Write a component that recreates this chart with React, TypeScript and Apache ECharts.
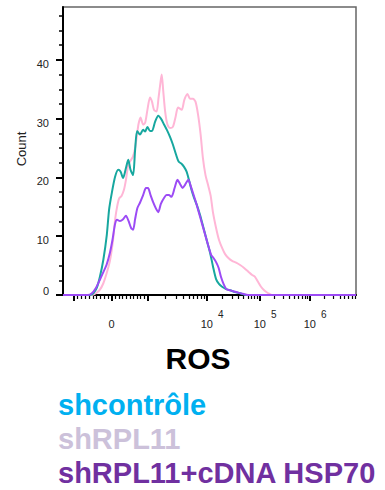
import React, { useEffect, useRef } from "react";
import * as echarts from "echarts";

// ROS axis is a biexponential display scale, expressed here in display channels (0–1024)
const X_MIN = 0;
const X_MAX = 1024;
// major ticks: -10^3, 0, 10^3, 10^4, 10^5, 10^6
const X_MAJOR_TICKS = [38, 170, 297, 502, 687, 862];
const X_LABEL_TICKS = [170, 502, 687, 862];
const X_LABEL_EXPONENTS = ["", "4", "5", "6"]; // "" means the "0" label

const Y_MAX = 49;
const Y_LABEL_TICKS = [0, 10, 20, 30, 40];
const Y_MINOR_STEP = 2.5;

const SERIES_NAMES = ["shcontrôle", "shRPL11", "shRPL11+cDNA HSP70"];
const LEGEND_COLORS = ["#00B0F0", "#CCC1DA", "#7030A0"];
const LINE_COLORS = ["#17A79F", "#FFB6D6", "#9C4BF5"];

// shcontrôle
const CTRL_X = [0, 94, 106, 118, 129, 141, 153, 161, 170, 182, 193, 201, 210, 220, 228, 236, 245, 252, 259, 269, 280, 287, 295, 304, 311, 322, 333, 345, 353, 363, 374, 384, 395, 404, 415, 423, 432, 440, 449, 458, 468, 479, 490, 502, 514, 524, 535, 545, 556, 570, 584, 601, 619, 640, 1024];
const CTRL_Y = [0, 0, 0.3, 1.2, 3.1, 6.0, 10.2, 14.5, 17.2, 20.1, 21.3, 21.0, 19.9, 21.6, 23.0, 21.3, 20.4, 24.7, 27.9, 27.3, 28.1, 27.8, 28.6, 27.9, 27.9, 29.5, 30.5, 29.8, 29.0, 28.1, 26.9, 25.6, 23.9, 22.7, 22.3, 21.8, 21.0, 19.6, 17.9, 16.5, 15.3, 13.6, 11.6, 9.4, 7.2, 4.9, 2.7, 1.9, 1.4, 1.0, 0.8, 0.5, 0.3, 0, 0];

// shRPL11
const RPL_X = [0, 101, 115, 129, 141, 152, 164, 175, 182, 189, 196, 205, 213, 220, 228, 234, 244, 252, 259, 264, 271, 280, 287, 295, 304, 311, 318, 327, 334, 341, 345, 350, 357, 365, 374, 384, 393, 402, 415, 424, 435, 444, 454, 463, 472, 481, 489, 498, 507, 516, 524, 535, 545, 556, 566, 578, 591, 605, 619, 633, 647, 661, 671, 682, 692, 703, 717, 730, 1024];
const RPL_Y = [0, 0, 0.3, 0.9, 2.0, 3.6, 5.8, 9.4, 12.8, 15.0, 16.4, 16.9, 17.9, 19.6, 22.1, 22.7, 23.5, 25.0, 27.4, 29.1, 30.2, 29.0, 29.3, 31.5, 33.6, 32.9, 31.5, 31.2, 33.6, 36.3, 37.5, 34.9, 31.2, 29.0, 28.4, 28.6, 30.2, 31.9, 31.5, 33.2, 34.2, 33.4, 33.4, 32.9, 30.7, 27.3, 23.3, 20.4, 18.7, 16.9, 14.1, 11.4, 9.4, 8.0, 7.0, 6.3, 5.8, 5.5, 5.1, 4.6, 4.0, 3.4, 3.1, 2.2, 1.4, 0.8, 0.3, 0, 0];

// shRPL11+cDNA HSP70
const HSP_X = [0, 87, 101, 115, 129, 141, 152, 164, 173, 182, 189, 199, 210, 220, 229, 238, 245, 252, 260, 269, 280, 290, 297, 306, 315, 325, 333, 342, 353, 362, 370, 379, 390, 400, 409, 418, 426, 438, 446, 454, 465, 475, 486, 496, 507, 518, 526, 535, 544, 552, 561, 571, 584, 598, 612, 629, 647, 1024];
const HSP_Y = [0, 0, 0.3, 1.2, 2.6, 3.9, 5.1, 7.2, 9.4, 12.1, 12.8, 12.6, 12.9, 13.5, 12.6, 11.4, 11.1, 12.9, 14.8, 15.7, 17.0, 18.2, 18.2, 17.0, 15.8, 14.7, 14.1, 15.5, 16.5, 17.0, 17.0, 16.7, 18.2, 19.6, 18.9, 18.2, 18.7, 19.6, 18.6, 17.4, 15.7, 14.0, 12.1, 10.4, 8.5, 6.8, 6.3, 5.6, 4.6, 3.1, 1.9, 1.0, 0.8, 0.6, 0.4, 0.2, 0, 0];

const FONT = "Liberation Sans, Arial, Helvetica, sans-serif";
const TEXT = "#222";

function zip(xs: number[], ys: number[]) {
  return xs.map((x, i) => [x, ys[i]]);
}

function minorXTicks(): number[] {
  const out: number[] = [];
  const neg = X_MAJOR_TICKS[0];
  const zero = X_MAJOR_TICKS[1];
  const pos = X_MAJOR_TICKS[2];
  for (let m = 1; m <= 9; m++) {
    out.push(zero - ((zero - neg) * m) / 10);
    out.push(zero + ((pos - zero) * m) / 10);
  }
  const dec = X_MAJOR_TICKS.slice(2);
  for (let i = 0; i < dec.length; i++) {
    const a = dec[i];
    const w = i < dec.length - 1 ? dec[i + 1] - a : a - dec[i - 1];
    for (let m = 2; m <= 9; m++) {
      const v = a + w * Math.log10(m);
      if (v < X_MAX) out.push(v);
    }
  }
  return out;
}

function minorYTicks(): number[] {
  const out: number[] = [];
  for (let v = Y_MINOR_STEP; v < Y_MAX; v += Y_MINOR_STEP) {
    if (v % 10 !== 0) out.push(v);
  }
  return out;
}

export default function App() {
  const ref = useRef<HTMLDivElement>(null);

  useEffect(() => {
    if (!ref.current) return;
    const chart = echarts.init(ref.current, null, { renderer: "svg" });
    const seriesData = [zip(CTRL_X, CTRL_Y), zip(RPL_X, RPL_Y), zip(HSP_X, HSP_Y)];
    const order = [1, 0, 2];
    const legendY = [404.5, 438.5, 472.5];

    chart.setOption({
      animation: false,
      grid: {
        left: 63,
        right: 29,
        top: 7,
        bottom: 195,
        show: true,
        borderColor: "#666",
        borderWidth: 1.5,
      },
      xAxis: [
        {
          type: "value",
          min: X_MIN,
          max: X_MAX,
          position: "bottom",
          axisLine: { show: true, lineStyle: { color: "#000", width: 2 } },
          axisTick: {
            show: true,
            customValues: X_MAJOR_TICKS,
            length: 6,
            lineStyle: { color: "#000", width: 2 },
          },
          axisLabel: {
            customValues: X_LABEL_TICKS,
            margin: 14,
            color: TEXT,
            fontFamily: FONT,
            formatter: (v: number) => {
              const i = X_LABEL_TICKS.indexOf(v);
              const e = X_LABEL_EXPONENTS[i];
              return e ? `{b|10}{s|${e}}` : `{z|0}`;
            },
            rich: {
              b: { fontSize: 11, lineHeight: 29, padding: [0, 0, 0, 11], color: TEXT, fontFamily: FONT },
              s: { fontSize: 10, lineHeight: 11, padding: [0, 0, 18, 5], color: TEXT, fontFamily: FONT },
              z: { fontSize: 11, lineHeight: 29, color: TEXT, fontFamily: FONT },
            },
          },
          splitLine: { show: false },
        },
        {
          type: "value",
          min: X_MIN,
          max: X_MAX,
          position: "bottom",
          axisLine: { show: false },
          axisTick: {
            show: true,
            customValues: minorXTicks(),
            length: 4,
            lineStyle: { color: "#000", width: 1.2 },
          },
          axisLabel: { show: false },
          splitLine: { show: false },
        },
      ],
      yAxis: [
        {
          type: "value",
          min: 0,
          max: Y_MAX,
          position: "left",
          axisLine: { show: true, lineStyle: { color: "#000", width: 2 } },
          axisTick: {
            show: true,
            customValues: Y_LABEL_TICKS,
            length: 7,
            lineStyle: { color: "#000", width: 2 },
          },
          axisLabel: {
            customValues: Y_LABEL_TICKS,
            margin: 14,
            color: TEXT,
            fontFamily: FONT,
            formatter: (v: number) => (v === 0 ? `{z|0}` : `{n|${v}}`),
            rich: {
              n: { fontSize: 11, padding: [8, 0, 0, 0], color: TEXT, fontFamily: FONT },
              z: { fontSize: 11, padding: [0, 0, 8, 0], color: TEXT, fontFamily: FONT },
            },
          },
          splitLine: { show: false },
        },
        {
          type: "value",
          min: 0,
          max: Y_MAX,
          position: "left",
          axisLine: { show: false },
          axisTick: {
            show: true,
            customValues: minorYTicks(),
            length: 4,
            lineStyle: { color: "#000", width: 1.5 },
          },
          axisLabel: { show: false },
          splitLine: { show: false },
        },
      ],
      graphic: [
        {
          type: "text",
          x: 198,
          y: 358,
          style: {
            text: "ROS",
            fill: "#000",
            font: `bold 30px ${FONT}`,
            align: "center",
            verticalAlign: "middle",
          },
        },
        {
          type: "text",
          x: 21,
          y: 149,
          rotation: Math.PI / 2,
          style: {
            text: "Count",
            fill: TEXT,
            font: `13px ${FONT}`,
            align: "center",
            verticalAlign: "middle",
          },
        },
        ...SERIES_NAMES.map((name, i) => ({
          type: "text",
          x: 58,
          y: legendY[i],
          style: {
            text: name,
            fill: LEGEND_COLORS[i],
            font: `bold 29px ${FONT}`,
            align: "left",
            verticalAlign: "middle",
          },
        })),
      ],
      series: order.map((i) => ({
        name: SERIES_NAMES[i],
        type: "line",
        xAxisIndex: 0,
        yAxisIndex: 0,
        data: seriesData[i],
        showSymbol: false,
        smooth: 0.25,
        lineStyle: { color: LINE_COLORS[i], width: 2 },
        itemStyle: { color: LINE_COLORS[i] },
        emphasis: { disabled: true },
      })),
    });

    return () => chart.dispose();
  }, []);

  return (
    <div
      ref={ref}
      style={{ position: "absolute", left: 0, top: 0, width: 385, height: 490 }}
    />
  );
}
